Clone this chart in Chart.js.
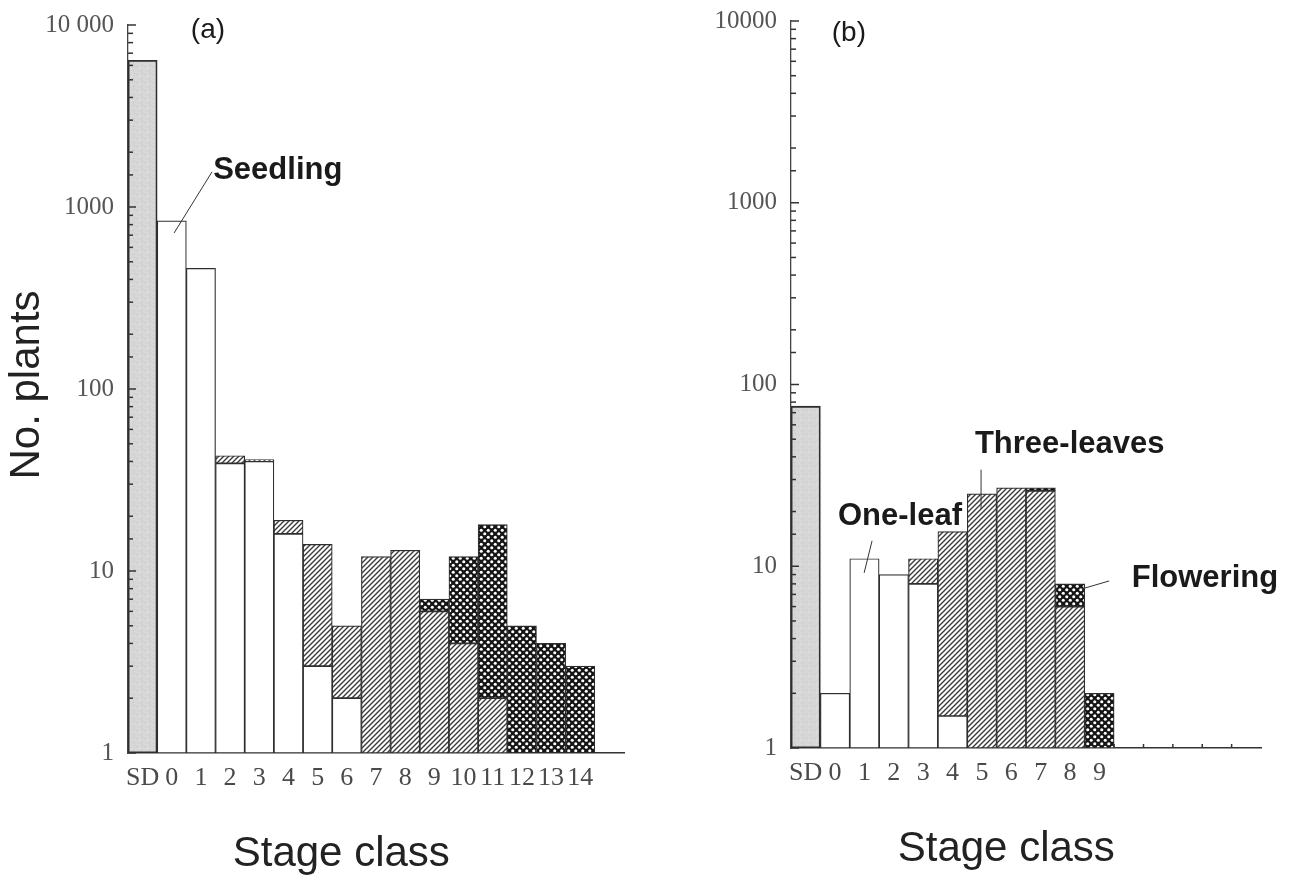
<!DOCTYPE html>
<html>
<head>
<meta charset="utf-8">
<script src="https://cdn.jsdelivr.net/npm/chart.js@4.4.1/dist/chart.umd.min.js"></script>
<style>
  html, body { margin: 0; padding: 0; background: #fff; }
  .panel { position: absolute; top: 0; width: 645px; height: 879px; }
  #wrapA { left: 0; }
  #wrapB { left: 645px; }
</style>
</head>
<body>
<div class="panel" id="wrapA"><canvas id="chartA"></canvas></div>
<div class="panel" id="wrapB"><canvas id="chartB"></canvas></div>
<script>
// ---- data: panel (a) ----
const aLabels    = ['SD', '0', '1', '2', '3', '4', '5', '6', '7', '8', '9', '10', '11', '12', '13', '14', ''];
const aSown      = [6400, null, null, null, null, null, null, null, null, null, null, null, null, null, null, null, null];
const aSeedling  = [null, 840, 460, 39, 40, 16, 3, 2, null, null, null, null, null, null, null, null, null];
const aThreeLeaf = [null, null, null, 4, 1, 3, 11, 3, 12, 13, 6, 4, 2, null, null, null, null];
const aFlowering = [null, null, null, null, null, null, null, null, null, null, 1, 8, 16, 5, 4, 3, null];
const aYTicks    = ['1', '10', '100', '1000', '10 000'];

// ---- data: panel (b) ----
const bLabels    = ['SD', '0', '1', '2', '3', '4', '5', '6', '7', '8', '9', '', '', '', '', ''];
const bSown      = [76, null, null, null, null, null, null, null, null, null, null, null, null, null, null, null];
const bSeedling  = [null, 2, 11, 9, 8, 1.5, null, null, null, null, null, null, null, null, null, null];
const bThreeLeaf = [null, null, null, null, 3, 14, 25, 27, 26, 6, null, null, null, null, null, null];
const bFlowering = [null, null, null, null, null, null, null, null, 1, 2, 2, null, null, null, null, null];
const bYTicks    = ['1', '10', '100', '1000', '10000'];

// ---- fill patterns ----
function makeTile(size, draw) {
    const c = document.createElement('canvas');
    c.width = size; c.height = size;
    const g = c.getContext('2d');
    draw(g, size);
    return g.createPattern(c, 'repeat');
}

const sownFill = makeTile(8, (g, s) => {
    g.fillStyle = '#d7d7d7';
    g.fillRect(0, 0, s, s);
    g.fillStyle = '#c2c2c2';
    g.fillRect(1, 2, 1, 1);
    g.fillRect(5, 6, 1, 1);
    g.fillRect(6, 1, 1, 1);
    g.fillStyle = '#e6e6e6';
    g.fillRect(3, 4, 1, 1);
});

const hatchFill = makeTile(5, (g, s) => {
    g.fillStyle = '#ffffff';
    g.fillRect(0, 0, s, s);
    g.strokeStyle = '#3a3a3a';
    g.lineWidth = 1.4;
    g.beginPath();
    g.moveTo(-1, s + 1); g.lineTo(s + 1, -1);
    g.moveTo(-1, 1);     g.lineTo(1, -1);
    g.moveTo(s - 1, s + 1); g.lineTo(s + 1, s - 1);
    g.stroke();
});

const dotFill = makeTile(7, (g, s) => {
    g.fillStyle = '#151515';
    g.fillRect(0, 0, s, s);
    g.fillStyle = '#ffffff';
    [[1.75, 1.75], [5.25, 5.25]].forEach(([x, y]) => {
        g.beginPath();
        g.arc(x, y, 1.55, 0, Math.PI * 2);
        g.fill();
    });
});

// ---- decorations: inward y ticks, panel letter, labels, axis titles ----
const paperDecorPlugin = {
    id: 'paperDecor',
    afterDatasetsDraw(chart, args, opts) {
        const { ctx, chartArea: { left, right, bottom }, scales: { x, y } } = chart;
        ctx.save();

        // minor/major tick marks drawn inside the y axis
        ctx.strokeStyle = '#333';
        ctx.lineWidth = 1.5;
        y.ticks.forEach(t => {
            const py = y.getPixelForValue(t.value);
            const e = Math.log10(t.value);
            const len = Math.abs(e - Math.round(e)) < 1e-9 ? 8 : 5;
            ctx.beginPath();
            ctx.moveTo(left, py);
            ctx.lineTo(left + len, py);
            ctx.stroke();
        });

        // small upward ticks on the empty part of the x axis
        (opts.emptyTicks || []).forEach(i => {
            const px = x.getPixelForValue(i);
            ctx.beginPath();
            ctx.moveTo(px, bottom);
            ctx.lineTo(px, bottom - 4);
            ctx.stroke();
        });

        // leader lines
        ctx.strokeStyle = '#333';
        ctx.lineWidth = 1;
        (opts.leaders || []).forEach(l => {
            ctx.beginPath();
            ctx.moveTo(x.getPixelForValue(l.x1), y.getPixelForValue(l.y1));
            ctx.lineTo(x.getPixelForValue(l.x2), y.getPixelForValue(l.y2));
            ctx.stroke();
        });

        // bold stage names
        ctx.fillStyle = '#1a1a1a';
        ctx.textAlign = 'left';
        ctx.textBaseline = 'alphabetic';
        ctx.font = 'bold 31px "Liberation Sans", Arial, sans-serif';
        (opts.notes || []).forEach(n => {
            ctx.fillText(n.text, x.getPixelForValue(n.x), y.getPixelForValue(n.y));
        });

        // panel letter
        ctx.font = '28px "Liberation Sans", Arial, sans-serif';
        ctx.textAlign = 'center';
        ctx.textBaseline = 'middle';
        ctx.fillText(opts.panel.text, x.getPixelForValue(opts.panel.x), y.getPixelForValue(opts.panel.y));

        // x axis title
        ctx.fillStyle = '#222';
        ctx.font = '42px "Liberation Sans", Arial, sans-serif';
        ctx.textBaseline = 'alphabetic';
        ctx.fillText('Stage class', left + (right - left) * opts.stageFrac, bottom + 113);

        // y axis title
        if (opts.yTitle) {
            ctx.translate(27, (chart.chartArea.top + bottom) / 2 - 4);
            ctx.rotate(-Math.PI / 2);
            ctx.textBaseline = 'middle';
            ctx.fillText(opts.yTitle, 0, 0);
        }
        ctx.restore();
    }
};

function makeChart(canvasId, labels, sown, seedling, threeLeaf, flowering, yTicks, geom, decor) {
    const barStyle = {
        borderColor: '#2e2e2e',
        borderWidth: 1.2,
        borderSkipped: false,
        barPercentage: 1,
        categoryPercentage: 1
    };
    return new Chart(document.getElementById(canvasId), {
        type: 'bar',
        data: {
            labels: labels,
            datasets: [
                { label: 'Sown', data: sown, backgroundColor: sownFill, ...barStyle, borderWidth: 1.8 },
                { label: 'Seedling', data: seedling, backgroundColor: '#ffffff', ...barStyle },
                { label: 'Three-leaves', data: threeLeaf, backgroundColor: hatchFill, ...barStyle },
                { label: 'Flowering', data: flowering, backgroundColor: dotFill, ...barStyle }
            ]
        },
        options: {
            responsive: true,
            maintainAspectRatio: false,
            animation: false,
            layout: { padding: { top: geom.top, right: 645 - geom.right, left: 0, bottom: 0 } },
            plugins: {
                legend: { display: false },
                tooltip: { enabled: false },
                paperDecor: decor
            },
            scales: {
                x: {
                    stacked: true,
                    grid: { display: false },
                    border: { display: true, color: '#333', width: 1.5 },
                    ticks: {
                        autoSkip: false,
                        maxRotation: 0,
                        minRotation: 0,
                        padding: 2,
                        color: '#4a4a4a',
                        font: { family: '"Liberation Serif", "DejaVu Serif", serif', size: 26 }
                    },
                    afterFit(scale) { scale.height = 879 - geom.bottom; }
                },
                y: {
                    type: 'logarithmic',
                    stacked: true,
                    min: 1,
                    max: 10000,
                    grid: { display: false },
                    border: { display: true, color: '#444', width: 1.3 },
                    ticks: {
                        autoSkip: false,
                        padding: 6,
                        color: '#555',
                        font: { family: '"Liberation Serif", "DejaVu Serif", serif', size: 25 },
                        callback(value) {
                            const e = Math.log10(value);
                            const r = Math.round(e);
                            return Math.abs(e - r) < 1e-9 ? yTicks[r] : '';
                        }
                    },
                    afterFit(scale) { scale.width = geom.left; }
                }
            }
        },
        plugins: [paperDecorPlugin]
    });
}

makeChart('chartA', aLabels, aSown, aSeedling, aThreeLeaf, aFlowering, aYTicks,
    { left: 128, right: 624, top: 25, bottom: 753 },
    {
        panel: { text: '(a)', x: 2.24, y: 9300 },
        notes: [{ text: 'Seedling', x: 2.42, y: 1420 }],
        leaders: [{ x1: 2.38, y1: 1560, x2: 1.08, y2: 720 }],
        stageFrac: 0.43,
        yTitle: 'No. plants'
    });

makeChart('chartB', bLabels, bSown, bSeedling, bThreeLeaf, bFlowering, bYTicks,
    { left: 146, right: 616, top: 18, bottom: 748 },
    {
        panel: { text: '(b)', x: 1.47, y: 8600 },
        notes: [
            { text: 'Three-leaves', x: 5.76, y: 42 },
            { text: 'One-leaf', x: 1.1, y: 16.9 },
            { text: 'Flowering', x: 11.1, y: 7.7 }
        ],
        leaders: [
            { x1: 5.97, y1: 34, x2: 5.97, y2: 20.7 },
            { x1: 2.26, y1: 13.8, x2: 1.99, y2: 9.2 },
            { x1: 10.33, y1: 8.3, x2: 9.4, y2: 7.5 }
        ],
        emptyTicks: [10.5, 11.5, 12.5, 13.5, 14.5],
        stageFrac: 0.458
    });
</script>
</body>
</html>
